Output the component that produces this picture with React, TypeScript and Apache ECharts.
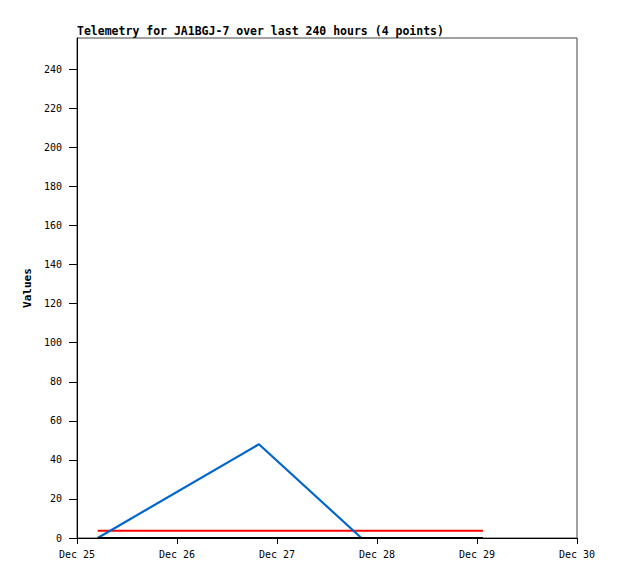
import React, { useEffect, useRef } from "react";
import * as echarts from "echarts";

const titleText = "Telemetry for JA1BGJ-7 over last 240 hours (4 points)";
const yAxisName = "Values";
const sampleTimes = ["2023-12-25T04:58:00Z", "2023-12-26T19:40:00Z", "2023-12-27T20:15:00Z", "2023-12-29T01:25:00Z"];
const blueValues = [0, 48, 0, 0];
const redValues = [3.7, 3.7, 3.7, 3.7];
const blackValues = [0, 0, 0, 0];
const xMinDate = "2023-12-25T00:00:00Z";
const xMaxDate = "2023-12-30T00:00:00Z";
const yMax = 256;
const yInterval = 20;
const monthNames = ["Jan", "Feb", "Mar", "Apr", "May", "Jun", "Jul", "Aug", "Sep", "Oct", "Nov", "Dec"];

const DAY = 86400000;
const FONT = "DejaVu Sans Mono";

export default function App() {
  const ref = useRef<HTMLDivElement>(null);
  useEffect(() => {
    if (!ref.current) return;
    const chart = echarts.init(ref.current, undefined, { renderer: "svg" });
    const ts = sampleTimes.map((s) => Date.parse(s));
    const mk = (vals: number[]) => ts.map((t, i) => [t, vals[i]]);
    chart.setOption({
      animation: false,
      backgroundColor: "#fff",
      title: {
        text: titleText,
        left: 77,
        top: 25,
        padding: 0,
        textStyle: { fontFamily: FONT, fontSize: 11.5, fontWeight: "bold", color: "#000" },
      },
      grid: { left: 77, right: 41, top: 38, bottom: 41, show: true, borderColor: "#444", borderWidth: 1 },
      xAxis: {
        type: "value",
        min: Date.parse(xMinDate),
        max: Date.parse(xMaxDate),
        interval: DAY,
        splitLine: { show: false },
        axisLine: { show: true, lineStyle: { color: "#000", width: 1 } },
        axisTick: { show: true, length: 6, lineStyle: { color: "#000" } },
        axisLabel: {
          margin: 11,
          fontFamily: FONT,
          fontSize: 10,
          color: "#000",
          formatter: (v: number) => {
            const d = new Date(v);
            return monthNames[d.getUTCMonth()] + " " + d.getUTCDate();
          },
        },
      },
      yAxis: {
        type: "value",
        min: 0,
        max: yMax,
        interval: yInterval,
        name: yAxisName,
        nameLocation: "middle",
        nameGap: 37,
        nameTextStyle: { fontFamily: FONT, fontSize: 11, fontWeight: "bold", color: "#000" },
        splitLine: { show: false },
        axisLine: { show: true, lineStyle: { color: "#000", width: 1 } },
        axisTick: { show: true, length: 8, lineStyle: { color: "#000" } },
        axisLabel: {
          margin: 15,
          fontFamily: FONT,
          fontSize: 10,
          color: "#000",
          showMaxLabel: false,
        },
      },
      series: [
        {
          type: "line",
          data: mk(redValues),
          showSymbol: false,
          clip: false,
          lineStyle: { color: "#ff0000", width: 2 },
          z: 2,
        },
        {
          type: "line",
          data: mk(blueValues),
          showSymbol: false,
          clip: false,
          lineStyle: { color: "#0066cc", width: 2.2 },
          z: 3,
        },
        {
          type: "line",
          data: mk(blackValues),
          showSymbol: false,
          clip: false,
          lineStyle: { color: "#000", width: 2 },
          z: 4,
        },
      ],
    });
    return () => chart.dispose();
  }, []);
  return <div ref={ref} style={{ width: 618, height: 579, position: "absolute", left: 0, top: 0 }} />;
}
